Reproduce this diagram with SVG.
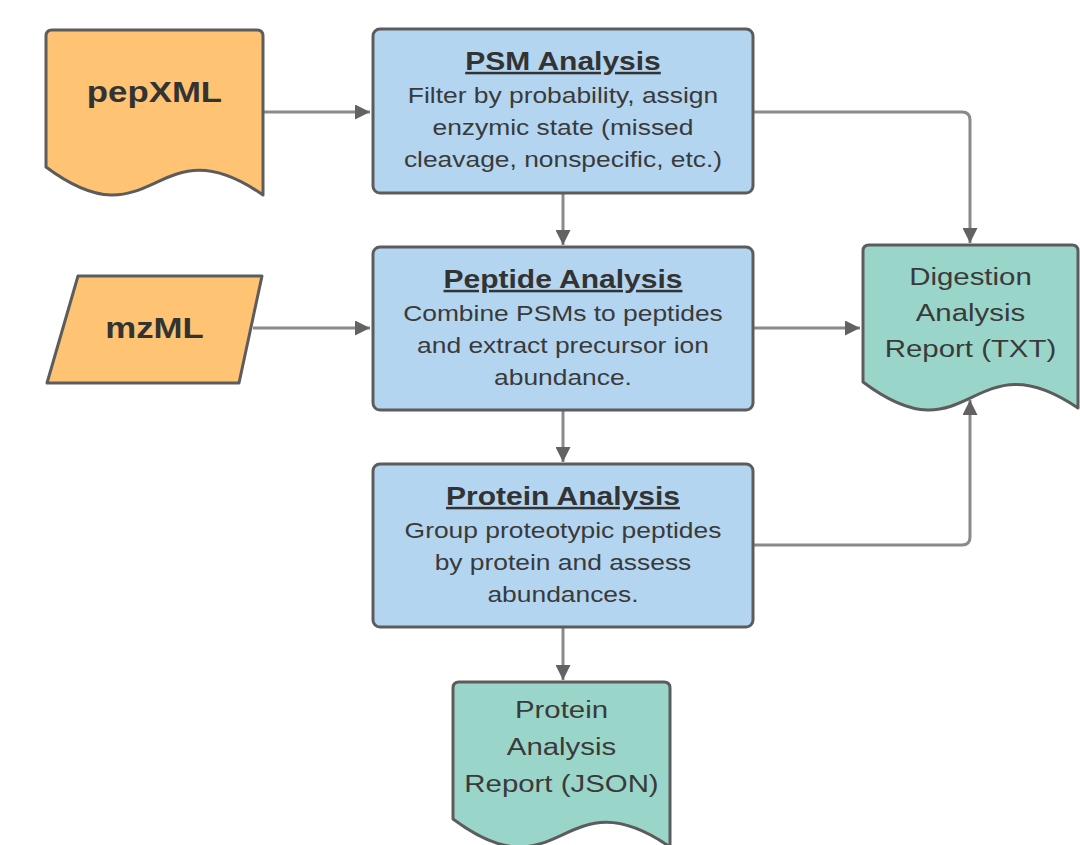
<svg xmlns="http://www.w3.org/2000/svg" width="1080" height="845" viewBox="0 0 1080 845">
<style>
.box{fill:#B4D5F0;stroke:#5c5c5c;stroke-width:3}
.in{fill:#FFC374;stroke:#5c5c5c;stroke-width:3;stroke-linejoin:round}
.out{fill:#9AD5CA;stroke:#5c5c5c;stroke-width:3;stroke-linejoin:round}
.t{font-family:"Liberation Sans",Arial,sans-serif;fill:#333;text-anchor:middle}
.h{font-size:25px;font-weight:bold;text-decoration:underline}
.b{font-size:22px;fill:#3a3a3a}
.d{font-size:24.5px;fill:#3a3a3a}
.big{font-size:29px;font-weight:bold}
.c{fill:none;stroke:#8a8a8a;stroke-width:3}
</style>
<defs>
<marker id="ah" markerUnits="userSpaceOnUse" markerWidth="15" markerHeight="15" refX="15" refY="7.5" orient="auto">
<path d="M0,0 L15,7.5 L0,15 z" fill="#626262"/>
</marker>
</defs>
<g id="connectors">
<path class="c" d="M264,112 H370" marker-end="url(#ah)"/>
<path class="c" d="M253,328 H370" marker-end="url(#ah)"/>
<path class="c" d="M563,193 V245" marker-end="url(#ah)"/>
<path class="c" d="M563,410 V462" marker-end="url(#ah)"/>
<path class="c" d="M563,627 V680" marker-end="url(#ah)"/>
<path class="c" d="M754,112 H962 Q970,112 970,120 V243" marker-end="url(#ah)"/>
<path class="c" d="M754,328 H860" marker-end="url(#ah)"/>
<path class="c" d="M754,545 H962 Q970,545 970,537 V400" marker-end="url(#ah)"/>
</g>
<g id="pepXML">
<path class="in" d="M52,30 H257 Q263,30 263,36 V195 C154.5,120 154.5,248 46,167 V36 Q46,30 52,30 Z"/>
<g transform="matrix(1.2 0 0 1 -30.9 0)"><text class="t big" x="154.5" y="102">pepXML</text></g>
</g>
<g id="mzML">
<polygon class="in" points="78,276 262,276 239,383 47,383"/>
<g transform="matrix(1.2 0 0 1 -30.9 0)"><text class="t big" x="154.5" y="338">mzML</text></g>
</g>
<g id="psm">
<rect class="box" x="373" y="29" width="380" height="164" rx="7"/>
<g transform="matrix(1.2 0 0 1 -112.6 0)">
<text class="t h" x="563" y="70">PSM Analysis</text>
<text class="t b" x="563" y="103">Filter by probability, assign</text>
<text class="t b" x="563" y="135">enzymic state (missed</text>
<text class="t b" x="563" y="167">cleavage, nonspecific, etc.)</text>
</g>
</g>
<g id="peptide">
<rect class="box" x="373" y="247" width="380" height="163" rx="7"/>
<g transform="matrix(1.2 0 0 1 -112.6 0)">
<text class="t h" x="563" y="288">Peptide Analysis</text>
<text class="t b" x="563" y="321">Combine PSMs to peptides</text>
<text class="t b" x="563" y="353">and extract precursor ion</text>
<text class="t b" x="563" y="385">abundance.</text>
</g>
</g>
<g id="protein">
<rect class="box" x="373" y="464" width="380" height="163" rx="7"/>
<g transform="matrix(1.2 0 0 1 -112.6 0)">
<text class="t h" x="563" y="505">Protein Analysis</text>
<text class="t b" x="563" y="538">Group proteotypic peptides</text>
<text class="t b" x="563" y="570">by protein and assess</text>
<text class="t b" x="563" y="602">abundances.</text>
</g>
</g>
<g id="digestion">
<path class="out" d="M869,245 H1072 Q1078,245 1078,251 V408 C970.5,335 970.5,463 863,382 V251 Q863,245 869,245 Z"/>
<g transform="matrix(1.2 0 0 1 -194.1 0)">
<text class="t d" x="970.5" y="285">Digestion</text>
<text class="t d" x="970.5" y="321">Analysis</text>
<text class="t d" x="970.5" y="357">Report (TXT)</text>
</g>
</g>
<g id="json">
<path class="out" d="M459,682 H664 Q670,682 670,688 V847 C561.5,772 561.5,900 453,819 V688 Q453,682 459,682 Z"/>
<g transform="matrix(1.2 0 0 1 -112.3 0)">
<text class="t d" x="561.5" y="718">Protein</text>
<text class="t d" x="561.5" y="755">Analysis</text>
<text class="t d" x="561.5" y="792">Report (JSON)</text>
</g>
</g>
</svg>
